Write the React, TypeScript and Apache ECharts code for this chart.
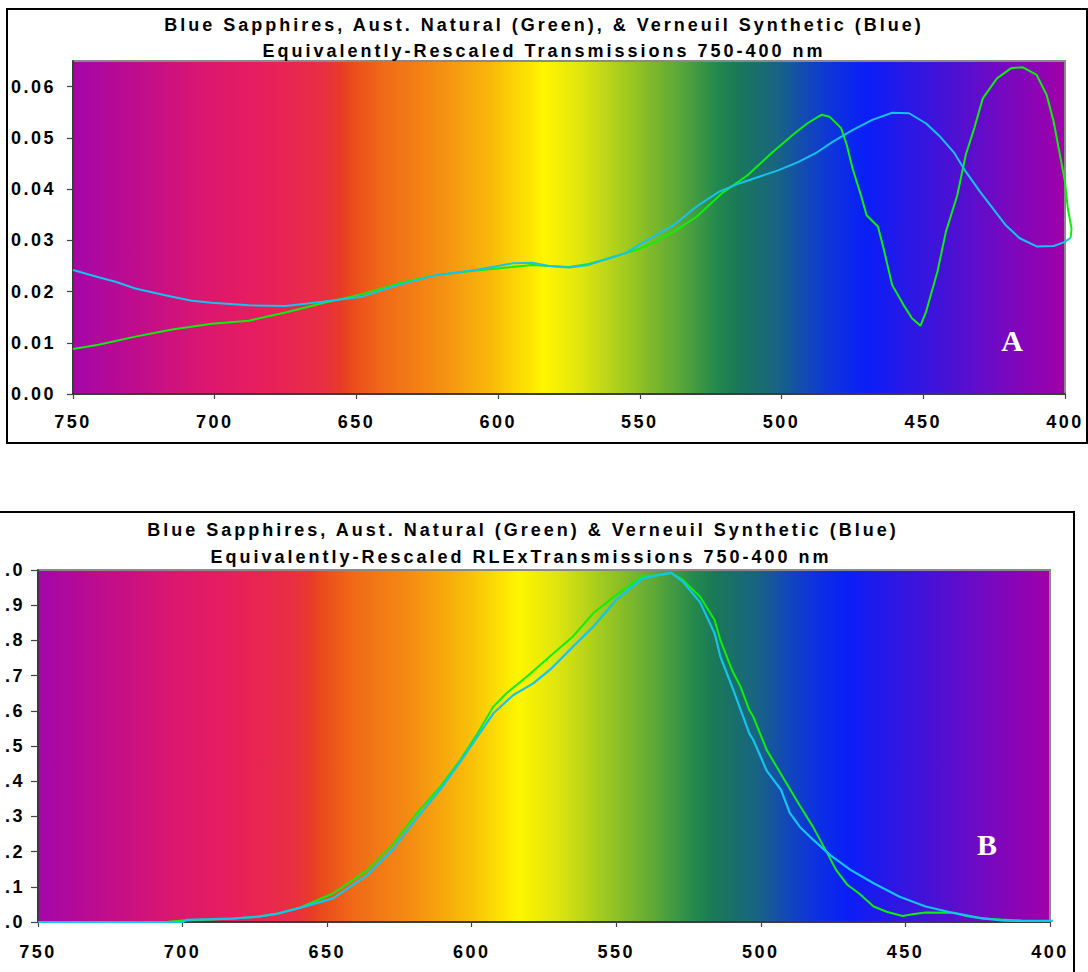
import React, { useEffect, useRef } from "react";
import * as echarts from "echarts";

// ---------- DATA ----------
const xTicks = [750, 700, 650, 600, 550, 500, 450, 400];
const topYTicks = [0, 0.01, 0.02, 0.03, 0.04, 0.05, 0.06];
const bottomYTicks = [0, 0.1, 0.2, 0.3, 0.4, 0.5, 0.6, 0.7, 0.8, 0.9, 1.0];

// Panel A: equivalently-rescaled transmissions
const topGreenNm = [750, 741, 728, 715, 701, 688, 675, 662, 648, 635, 622, 608, 595, 588, 582, 575, 568, 562, 555, 550, 545, 538, 530, 521, 512, 503, 496, 491, 486, 483, 479, 477, 475, 472, 470, 466, 464, 461, 457, 454, 451, 449, 445, 442, 438, 435, 432, 429, 424, 419, 415, 410, 406.5, 404, 402, 400, 399, 397.7, 398];
const topGreenT = [0.0088, 0.0096, 0.0112, 0.0126, 0.0137, 0.0143, 0.0159, 0.0177, 0.0195, 0.0216, 0.0232, 0.0241, 0.0248, 0.0252, 0.025, 0.0248, 0.0254, 0.0263, 0.0275, 0.0284, 0.0296, 0.0317, 0.0346, 0.0392, 0.0427, 0.0473, 0.0506, 0.0528, 0.0545, 0.0541, 0.0519, 0.0486, 0.0441, 0.0388, 0.0349, 0.0327, 0.0284, 0.0213, 0.0174, 0.0148, 0.0133, 0.0161, 0.0239, 0.0317, 0.0388, 0.0467, 0.0519, 0.0577, 0.0616, 0.0636, 0.0638, 0.0623, 0.0584, 0.0532, 0.0473, 0.0414, 0.0362, 0.0323, 0.0305];
const topBlueNm = [750, 741, 735, 728, 721, 715, 708, 701, 688, 675, 668, 662, 648, 635, 622, 608, 595, 588, 582, 575, 568, 562, 555, 550, 538, 530, 522, 515, 509, 501, 494, 488, 482, 475, 468, 461, 455, 449, 444, 439, 435, 430, 425, 421, 416, 410, 404, 400, 398];
const topBlueT = [0.0242, 0.0228, 0.0219, 0.0206, 0.0197, 0.019, 0.0182, 0.0178, 0.0173, 0.0172, 0.0176, 0.018, 0.019, 0.0213, 0.0232, 0.0242, 0.0255, 0.0256, 0.025, 0.0247, 0.0252, 0.0263, 0.0275, 0.0292, 0.033, 0.0366, 0.0395, 0.0411, 0.0422, 0.0437, 0.0453, 0.047, 0.0492, 0.0515, 0.0535, 0.0549, 0.0548, 0.0528, 0.0502, 0.047, 0.0434, 0.0395, 0.0359, 0.033, 0.0304, 0.0288, 0.0289, 0.0297, 0.0305];

// Panel B: equivalently-rescaled RLEx transmissions
const botGreenNm = [750, 720, 705, 700, 690, 682, 674, 667, 659, 648, 636, 627, 619, 611, 604, 598, 592.5, 588, 581, 573, 565, 558, 550, 541, 535, 531, 527, 521, 516, 514, 510, 507, 504, 502.6, 498, 493, 486.5, 482, 477, 474, 470, 466, 461, 456.5, 451, 447, 443, 433, 429, 423, 417, 410];
const botGreenT = [0, 0, 0.001, 0.004, 0.007, 0.01, 0.015, 0.024, 0.042, 0.081, 0.148, 0.224, 0.309, 0.384, 0.46, 0.536, 0.612, 0.65, 0.697, 0.754, 0.811, 0.877, 0.929, 0.981, 0.986, 0.992, 0.972, 0.924, 0.858, 0.801, 0.716, 0.668, 0.602, 0.583, 0.489, 0.42, 0.33, 0.271, 0.195, 0.148, 0.105, 0.081, 0.044, 0.029, 0.017, 0.023, 0.027, 0.026, 0.017, 0.01, 0.007, 0.004];
const botBlueNm = [750, 700, 698.6, 690, 682.5, 674, 667, 659.4, 648, 636, 627, 619, 611, 604, 598, 592.5, 585.6, 578.7, 573, 565, 558, 550, 541, 535, 531, 527, 521, 516, 514, 509.5, 504, 502.6, 498, 493, 490, 486.5, 483, 476, 469, 461, 452, 443, 433, 424, 416, 408, 399];
const botBlueT = [0, 0, 0.006, 0.008, 0.01, 0.015, 0.024, 0.04, 0.067, 0.134, 0.209, 0.295, 0.375, 0.455, 0.527, 0.593, 0.645, 0.678, 0.716, 0.782, 0.839, 0.915, 0.976, 0.986, 0.992, 0.967, 0.908, 0.82, 0.754, 0.659, 0.536, 0.517, 0.43, 0.375, 0.31, 0.27, 0.242, 0.19, 0.148, 0.11, 0.072, 0.044, 0.025, 0.011, 0.004, 0.003, 0.003];

const titleTop1 = "Blue Sapphires, Aust. Natural (Green), & Verneuil Synthetic (Blue)";
const titleTop2 = "Equivalently-Rescaled Transmissions 750-400 nm";
const titleBot1 = "Blue Sapphires, Aust. Natural (Green) & Verneuil Synthetic (Blue)";
const titleBot2 = "Equivalently-Rescaled RLExTransmissions 750-400 nm";

// ---------- STYLE / LAYOUT ----------
const SPECTRUM = [
  [0.0, "#A406A8"], [0.06, "#BE0C8E"], [0.13, "#DA1670"], [0.19, "#E71E5C"],
  [0.25, "#E82E44"], [0.27, "#E83A28"], [0.28, "#EA4A1C"], [0.31, "#F06818"],
  [0.37, "#F58E12"], [0.42, "#F8B80A"], [0.475, "#FFF600"], [0.515, "#DCE410"],
  [0.57, "#90C224"], [0.61, "#5CA838"], [0.65, "#22884E"], [0.67, "#1A7858"],
  [0.71, "#186482"], [0.74, "#1248B8"], [0.77, "#0C30E0"], [0.8, "#0A1EF8"],
  [0.84, "#2818E6"], [0.89, "#4E10D2"], [0.94, "#7808C0"], [1.0, "#A000A8"],
];
const spectrumFill = () => ({
  type: "linear", x: 0, y: 0, x2: 1, y2: 0,
  colorStops: SPECTRUM.map(([o, c]) => ({ offset: o, color: c })),
});

const FONT = '"Liberation Sans", Arial, sans-serif';
const GREEN = "#0CF00C";
const CYAN = "#12C4F0";
const OX = 40; // container is shifted left by OX px (the reference is cropped on the left)

// plot rectangles (container coordinates)
const TOP = { left: 113, right: 23, top: 61, height: 333 };
const BOT = { left: 78, right: 38, top: 570, height: 352 };
const X_MIN = 400, X_MAX = 750, X_EXT = 395; // curves run a little past 400 nm
// hidden overlay grids with the same nm-per-pixel scale, extended to 395 nm
const extRight = (g: { left: number; right: number }) => {
  const w = 1088 + OX - g.left - g.right;
  return g.right - ((X_MIN - X_EXT) / (X_MAX - X_MIN)) * w;
};

const zip = (a: number[], b: number[]) => a.map((v, i) => [v, b[i]]);

const labelStyle = { fontFamily: FONT, fontWeight: "bold", fontSize: 18, color: "#000" };

function xAxisFor(gridIndex: number, margin: number) {
  return {
    type: "value", gridIndex, min: X_MIN, max: X_MAX, interval: 50, inverse: true,
    axisLine: { show: true, lineStyle: { color: "#222", width: 1.5 } },
    axisTick: { show: true, inside: false, length: 5, lineStyle: { color: "#444", width: 1.2 } },
    axisLabel: { ...labelStyle, margin, customValues: xTicks },
    splitLine: { show: false },
  };
}
function hiddenX(gridIndex: number) {
  return { type: "value", gridIndex, min: X_EXT, max: X_MAX, inverse: true, show: false, splitLine: { show: false } };
}
function hiddenY(gridIndex: number, max: number) {
  return { type: "value", gridIndex, min: 0, max, show: false, splitLine: { show: false } };
}

function titleText(text: string, x: number, y: number) {
  return {
    type: "text", x, y, silent: true,
    style: { text, font: `bold 18px ${FONT}`, fill: "#000", align: "center", verticalAlign: "middle", textAlign: "center", textVerticalAlign: "middle" },
  };
}

function spaceTexts(root: HTMLElement | null) {
  if (!root) return;
  root.querySelectorAll("svg text").forEach((t) => {
    const s = (t.textContent || "").trim();
    if (s.length <= 1) return;
    const sp = s.length > 12 ? "3px" : "2.5px";
    (t as SVGTextElement).setAttribute("letter-spacing", sp);
    (t as SVGTextElement).style.letterSpacing = sp;
  });
}

const lineSeries = (name: string, grid: number, nm: number[], t: number[], color: string, width: number) => ({
  name, type: "line", xAxisIndex: grid, yAxisIndex: grid, data: zip(nm, t),
  showSymbol: false, symbol: "none", clip: false, z: 3,
  lineStyle: { color, width }, itemStyle: { color },
});

export default function App() {
  const ref = useRef<HTMLDivElement>(null);
  useEffect(() => {
    if (!ref.current) return;
    const chart = echarts.init(ref.current, undefined, { renderer: "svg" });
    const option: any = {
      animation: false,
      backgroundColor: "#fff",
      grid: [
        { ...TOP, show: true, backgroundColor: spectrumFill(), borderColor: "#8a8a8a", borderWidth: 2 },
        { ...BOT, show: true, backgroundColor: spectrumFill(), borderColor: "#8a8a8a", borderWidth: 2 },
        { left: TOP.left, top: TOP.top, height: TOP.height, right: extRight(TOP), show: false },
        { left: BOT.left, top: BOT.top, height: BOT.height, right: extRight(BOT), show: false },
      ],
      xAxis: [xAxisFor(0, 19), xAxisFor(1, 21), hiddenX(2), hiddenX(3)],
      yAxis: [
        {
          type: "value", gridIndex: 0, min: 0, max: 0.065, interval: 0.01,
          axisLine: { show: true, lineStyle: { color: "#222", width: 1.5 } },
          axisTick: { show: true, length: 6, customValues: topYTicks, lineStyle: { color: "#444", width: 1.2 } },
          axisLabel: { ...labelStyle, margin: 17, customValues: topYTicks, formatter: (v: number) => v.toFixed(2) },
          splitLine: { show: false },
        },
        {
          type: "value", gridIndex: 1, min: 0, max: 1, interval: 0.1,
          axisLine: { show: true, lineStyle: { color: "#222", width: 1.5 } },
          axisTick: { show: true, length: 7, customValues: bottomYTicks, lineStyle: { color: "#444", width: 1.2 } },
          // the reference is cropped on the left: only the part after the leading digit shows
          axisLabel: { ...labelStyle, margin: 13, customValues: bottomYTicks, formatter: (v: number) => v.toFixed(1).slice(1) },
          splitLine: { show: false },
        },
        hiddenY(2, 0.065),
        hiddenY(3, 1),
      ],
      series: [
        lineSeries("Natural A", 2, topGreenNm, topGreenT, GREEN, 2),
        lineSeries("Synthetic A", 2, topBlueNm, topBlueT, CYAN, 2),
        lineSeries("Natural B", 3, botGreenNm, botGreenT, GREEN, 2),
        lineSeries("Synthetic B", 3, botBlueNm, botBlueT, CYAN, 2.2),
      ],
      graphic: [
        { type: "rect", silent: true, shape: { x: 7 + OX, y: 9, width: 1080, height: 434 }, style: { fill: "none", stroke: "#000", lineWidth: 2 } },
        { type: "rect", silent: true, shape: { x: -34 + OX, y: 512, width: 1108, height: 480 }, style: { fill: "none", stroke: "#000", lineWidth: 2 } },
        titleText(titleTop1, 544 + OX, 25),
        titleText(titleTop2, 544 + OX, 51),
        titleText(titleBot1, 523 + OX, 530),
        titleText(titleBot2, 521 + OX, 557),
        { type: "text", x: 1012 + OX, y: 340, z: 100, silent: true, style: { text: "A", font: 'bold 30px "Liberation Serif", "Times New Roman", serif', fill: "#fff", align: "center", verticalAlign: "middle", textAlign: "center", textVerticalAlign: "middle" } },
        { type: "text", x: 987 + OX, y: 844, z: 100, silent: true, style: { text: "B", font: 'bold 30px "Liberation Serif", "Times New Roman", serif', fill: "#fff", align: "center", verticalAlign: "middle", textAlign: "center", textVerticalAlign: "middle" } },
      ],
    };
    chart.setOption(option);
    const apply = () => spaceTexts(ref.current);
    apply();
    chart.on("finished", apply);
    const timer = setTimeout(apply, 50);
    return () => {
      clearTimeout(timer);
      chart.dispose();
    };
  }, []);
  return (
    <div
      ref={ref}
      style={{ position: "absolute", left: -OX, top: 0, width: 1088 + OX, height: 972 }}
    />
  );
}
